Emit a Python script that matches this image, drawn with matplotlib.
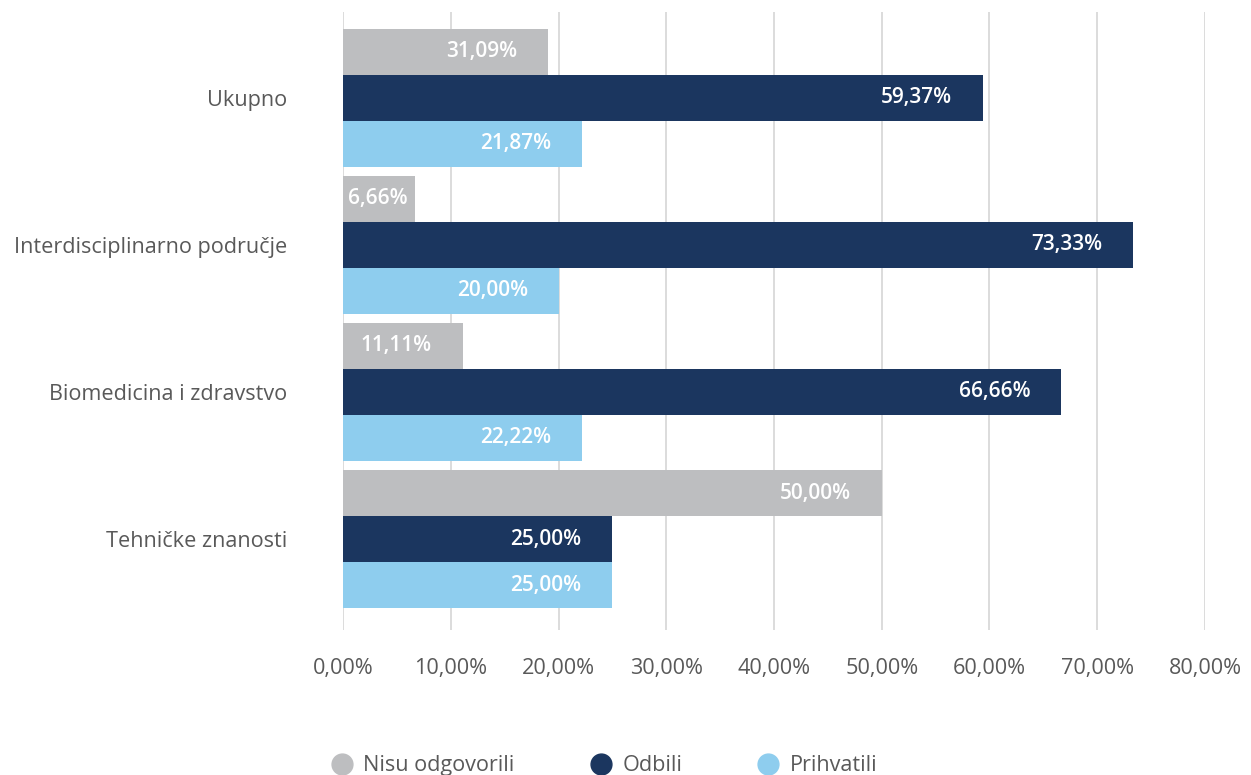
import matplotlib.pyplot as plt
from matplotlib.lines import Line2D

plt.rcParams['font.family'] = ['Open Sans', 'DejaVu Sans']

categories = ['Ukupno', 'Interdisciplinarno područje', 'Biomedicina i zdravstvo', 'Tehničke znanosti']
series = ['Nisu odgovorili', 'Odbili', 'Prihvatili']
# bar lengths as drawn, and the printed labels
nisu = [19.03, 6.66, 11.11, 50.00]
odbili = [59.37, 73.33, 66.66, 25.00]
prihvatili = [22.22, 20.00, 22.22, 25.00]
nisu_lbl = ['31,09%', '6,66%', '11,11%', '50,00%']
odbili_lbl = ['59,37%', '73,33%', '66,66%', '25,00%']
prihvatili_lbl = ['21,87%', '20,00%', '22,22%', '25,00%']
ticks = [0, 10, 20, 30, 40, 50, 60, 70, 80]

colors = ['#bdbec0', '#1b365f', '#8ecdee']

fig = plt.figure(figsize=(12.51, 7.75), dpi=100)
ax = fig.add_axes([0.2742, 0.187, 0.689, 0.7975])

h = 0.3125
data = [nisu, odbili, prihvatili]
labels = [nisu_lbl, odbili_lbl, prihvatili_lbl]
for k, (vals, lbls) in enumerate(zip(data, labels)):
    for i, (v, t) in enumerate(zip(vals, lbls)):
        y = i + (k - 1) * h
        ax.barh(y, v, height=h, color=colors[k], zorder=2)
        if v < 10:
            ax.text(0.45, y, t, ha='left', va='center', color='white',
                    fontsize=15, fontweight='semibold', zorder=3)
        else:
            ax.text(v - 2.85, y, t, ha='right', va='center', color='white',
                    fontsize=15, fontweight='semibold', zorder=3)

ax.set_xlim(0, 80)
ax.set_ylim(3.618, -0.581)
ax.set_yticks(range(len(categories)))
ax.set_yticklabels(categories)
ax.set_xticks(ticks)
ax.set_xticklabels([f'{t},00%' for t in ticks])
ax.tick_params(axis='both', length=0, labelsize=15.6, labelcolor='#595959')
ax.tick_params(axis='y', pad=40)
ax.tick_params(axis='x', pad=20)
ax.grid(axis='x', color='#d9d9d9', linewidth=1.3, zorder=0)
for s in ax.spines.values():
    s.set_visible(False)

handles = [Line2D([], [], marker='o', linestyle='', markersize=15, color=c) for c in colors]
fig.legend(handles, series, loc='center', bbox_to_anchor=(0.482, 0.012), ncol=3,
           frameon=False, fontsize=15.6, labelcolor='#595959', handletextpad=0.4,
           columnspacing=3.37, handlelength=1.2)

fig.savefig('out.png', dpi=100)
